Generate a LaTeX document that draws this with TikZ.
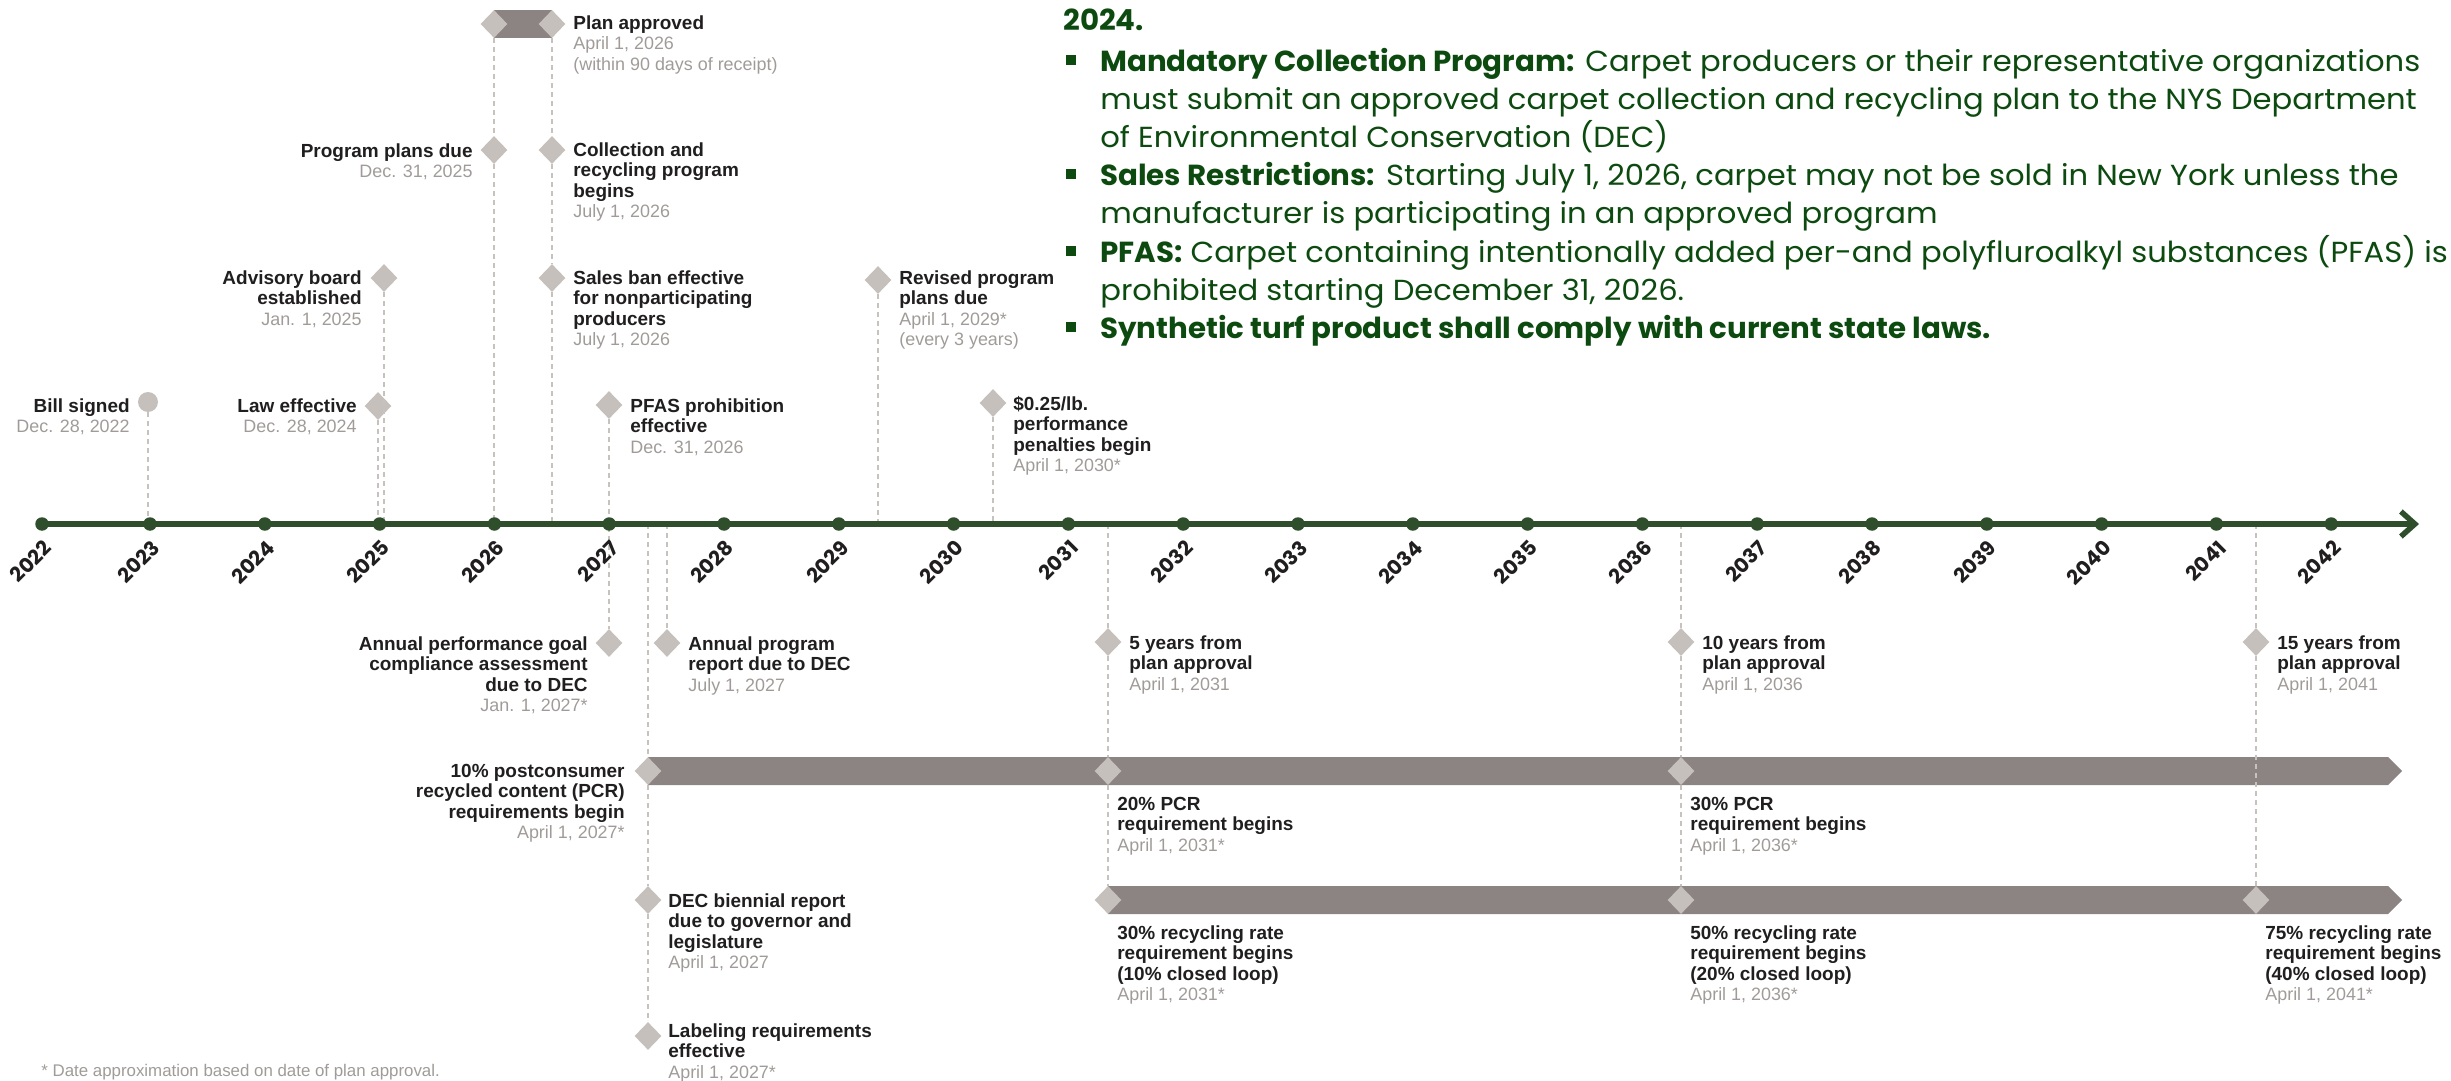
\documentclass[tikz,border=0pt]{standalone}
\usepackage{fontspec}
\setmainfont{Liberation Sans}
\newfontfamily\gothfont{Poppins}[FakeStretch=1.056]
\newfontfamily\gothbold{Poppins}[FakeStretch=1.01]
\usetikzlibrary{shapes.geometric,arrows.meta}

\definecolor{axisgreen}{RGB}{46,78,44}
\definecolor{txtgreen}{RGB}{12,74,16}
\definecolor{diamgray}{RGB}{198,192,188}
\definecolor{bargray}{RGB}{139,132,130}
\definecolor{dashgray}{RGB}{200,194,190}
\definecolor{dategray}{RGB}{160,155,152}
\definecolor{lblblack}{RGB}{32,30,30}

\newcommand\lblfont{\fontsize{10.8}{11.66}\selectfont\bfseries}
\newcommand\dte[1]{{\mdseries\fontsize{10.2}{11.66}\selectfont\color{dategray}#1}}
\newcommand\hd[1]{{\gothbold\bfseries #1}}
\newcommand\notefnt{\gothfont\fontsize{16.5}{21.6}\selectfont}
\newcommand\yrfont{\gothbold\bfseries\fontsize{11.5}{12}\selectfont}

\begin{document}
\begin{tikzpicture}
            [x=0.02cm,y=-0.02cm,
             dmd/.style={diamond,fill=diamgray,inner sep=0pt,minimum width=0.54cm,minimum height=0.56cm},
             rnd/.style={circle,fill=diamgray,inner sep=0pt,minimum size=0.4cm},
             yrdot/.style={circle,fill=axisgreen,inner sep=0pt,minimum size=0.27cm},
             yr/.style={rotate=45,anchor=east,inner sep=0pt,font=\yrfont,text=lblblack},
             lblL/.style={anchor=north west,align=left,inner sep=0pt,font=\lblfont,text=lblblack,yshift=4.3pt},
             lblR/.style={anchor=north east,align=right,inner sep=0pt,font=\lblfont,text=lblblack,yshift=4.3pt},
             note/.style={anchor=north west,align=left,inner sep=0pt,font=\notefnt,text=txtgreen,yshift=9.4pt},
             sq/.style={rectangle,fill=txtgreen,inner sep=0pt,minimum size=0.2cm},
             dashln/.style={draw=dashgray,line width=0.8pt,dash pattern=on 0.1cm off 0.08cm},
             axisln/.style={draw=axisgreen,line width=0.11cm,-{Straight Barb[length=0.28cm,width=0.5cm]}}]
            \useasboundingbox (0,0) rectangle (2451,1081);

            % the bars
            \fill[bargray] (494,10) rectangle (552,38);
            \fill[bargray] (648,757) -- (2388,757) -- (2402,771) -- (2388,785) -- (648,785) -- cycle;
            \fill[bargray] (1108,886) -- (2388,886) -- (2402,900) -- (2388,914) -- (1108,914) -- cycle;

            % the axis
            \coordinate (ax0) at (42,524);
            \coordinate (ax1) at (2419,524);
            \foreach \n/\px in {bill/148,law/378,adv/384,ppd/494,ban/552,pfas/609,rev/878,pen/993,
                                apr/667,pcr10/648,y5/1108,y10/1681,y15/2256}
              \coordinate (a-\n) at (\px,524);

            % above the axis
            \node[rnd] (d-bill) at (148,402) {};
            \node[lblR] (t-bill) at (130,405) {\strut Bill signed\\\dte{Dec. 28, 2022}};
            \node[dmd] (d-law) at (378,406) {};
            \node[lblR] (t-law) at (357,405) {\strut Law effective\\\dte{Dec. 28, 2024}};
            \node[dmd] (d-adv) at (384,278) {};
            \node[lblR] (t-adv) at (362,277) {\strut Advisory board\\established\\\dte{Jan. 1, 2025}};
            \node[dmd] (d-ppd) at (494,150) {};
            \node[lblR] (t-ppd) at (473,150) {\strut Program plans due\\\dte{Dec. 31, 2025}};
            \node[dmd] (d-planL) at (494,24) {};
            \node[dmd] (d-planR) at (552,24) {};
            \node[lblL] (t-plan) at (573,22) {\strut Plan approved\\\dte{April 1, 2026}\\\dte{(within 90 days of receipt)}};
            \node[dmd] (d-coll) at (552,150) {};
            \node[lblL] (t-coll) at (573,149) {\strut Collection and\\recycling program\\begins\\\dte{July 1, 2026}};
            \node[dmd] (d-ban) at (552,278) {};
            \node[lblL] (t-ban) at (573,277) {\strut Sales ban effective\\for nonparticipating\\producers\\\dte{July 1, 2026}};
            \node[dmd] (d-pfas) at (609,405) {};
            \node[lblL] (t-pfas) at (630,405) {\strut PFAS prohibition\\effective\\\dte{Dec. 31, 2026}};
            \node[dmd] (d-rev) at (878,280) {};
            \node[lblL] (t-rev) at (899,277) {\strut Revised program\\plans due\\\dte{April 1, 2029*}\\\dte{(every 3 years)}};
            \node[dmd] (d-pen) at (993,403) {};
            \node[lblL] (t-pen) at (1013,403) {\strut \$0.25/lb.\\performance\\penalties begin\\\dte{April 1, 2030*}};

            % below the axis
            \node[dmd] (d-apg) at (609,643) {};
            \node[lblR] (t-apg) at (588,643) {\strut Annual performance goal\\compliance assessment\\due to DEC\\\dte{Jan. 1, 2027*}};
            \node[dmd] (d-apr) at (667,643) {};
            \node[lblL] (t-apr) at (688,643) {\strut Annual program\\report due to DEC\\\dte{July 1, 2027}};
            \node[dmd] (d-pcr10) at (648,771) {};
            \node[lblR] (t-pcr10) at (625,770) {\strut 10\% postconsumer\\recycled content (PCR)\\requirements begin\\\dte{April 1, 2027*}};
            \node[dmd] (d-dec) at (648,900) {};
            \node[lblL] (t-dec) at (668,900) {\strut DEC biennial report\\due to governor and\\legislature\\\dte{April 1, 2027}};
            \node[dmd] (d-lab) at (648,1036) {};
            \node[lblL] (t-lab) at (668,1030) {\strut Labeling requirements\\effective\\\dte{April 1, 2027*}};
            \node[dmd] (d-y5) at (1108,642) {};
            \node[lblL] (t-y5) at (1129,642) {\strut 5 years from\\plan approval\\\dte{April 1, 2031}};
            \node[dmd] (d-y10) at (1681,642) {};
            \node[lblL] (t-y10) at (1702,642) {\strut 10 years from\\plan approval\\\dte{April 1, 2036}};
            \node[dmd] (d-y15) at (2256,642) {};
            \node[lblL] (t-y15) at (2277,642) {\strut 15 years from\\plan approval\\\dte{April 1, 2041}};
            \node[dmd] (d-pcr20) at (1108,771) {};
            \node[lblL] (t-pcr20) at (1117,803) {\strut 20\% PCR\\requirement begins\\\dte{April 1, 2031*}};
            \node[dmd] (d-pcr30) at (1681,771) {};
            \node[lblL] (t-pcr30) at (1690,803) {\strut 30\% PCR\\requirement begins\\\dte{April 1, 2036*}};
            \node[dmd] (d-rr30) at (1108,900) {};
            \node[lblL] (t-rr30) at (1117,932) {\strut 30\% recycling rate\\requirement begins\\(10\% closed loop)\\\dte{April 1, 2031*}};
            \node[dmd] (d-rr50) at (1681,900) {};
            \node[lblL] (t-rr50) at (1690,932) {\strut 50\% recycling rate\\requirement begins\\(20\% closed loop)\\\dte{April 1, 2036*}};
            \node[dmd] (d-rr75) at (2256,900) {};
            \node[lblL] (t-rr75) at (2265,932) {\strut 75\% recycling rate\\requirement begins\\(40\% closed loop)\\\dte{April 1, 2041*}};

            % dashed leaders
            \draw[dashln] (d-bill) -- (a-bill);
            \draw[dashln] (d-law) -- (a-law);
            \draw[dashln] (d-adv) -- (a-adv);
            \draw[dashln] (d-planL) -- (d-ppd) -- (a-ppd);
            \draw[dashln] (d-planR) -- (d-coll) -- (d-ban) -- (a-ban);
            \draw[dashln] (d-pfas) -- (a-pfas) -- (d-apg);
            \draw[dashln] (d-rev) -- (a-rev);
            \draw[dashln] (d-pen) -- (a-pen);
            \draw[dashln] (a-apr) -- (d-apr);
            \draw[dashln] (a-pcr10) -- (d-pcr10) -- (d-dec) -- (d-lab);
            \draw[dashln] (a-y5) -- (d-y5) -- (d-pcr20) -- (d-rr30);
            \draw[dashln] (a-y10) -- (d-y10) -- (d-pcr30) -- (d-rr50);
            \draw[dashln] (a-y15) -- (d-y15) -- (d-rr75);

            % the years
            \draw[axisln] (ax0) -- (ax1);
            \foreach \yr in {2022,...,2042} {
              \pgfmathsetmacro\px{ifthenelse(\yr==2022,42,150+(\yr-2023)*114.8)}
              \node[yrdot] (y\yr) at (\px,524) {};
              \node[yr] at (\px+6,544) {\yr};
            }

            % the notes
            \node[note] (n0) at (1063,20) {\strut\hd{2024.}};
            \node[sq] at (1071,60) {};
            \node[note] (n1) at (1100,61) {\strut\hd{Mandatory Collection Program:} Carpet producers or their representative organizations\\must submit an approved carpet collection and recycling plan to the NYS Department\\of Environmental Conservation (DEC)};
            \node[sq] at (1071,174) {};
            \node[note] (n2) at (1100,175) {\strut\hd{Sales Restrictions:} Starting July 1, 2026, carpet may not be sold in New York unless the\\manufacturer is participating in an approved program};
            \node[sq] at (1071,251) {};
            \node[note] (n3) at (1100,252) {\strut\hd{PFAS:} Carpet containing intentionally added per-and polyfluroalkyl substances (PFAS) is\\prohibited starting December 31, 2026.};
            \node[sq] at (1071,327) {};
            \node[note] (n4) at (1100,328) {\strut\hd{Synthetic turf product shall comply with current state laws.}};

            \node[anchor=west,inner sep=0pt,font=\fontsize{9.6}{11}\selectfont,text=dategray] (fn) at (41,1072) {* Date approximation based on date of plan approval.};
        \end{tikzpicture}
\end{document}
